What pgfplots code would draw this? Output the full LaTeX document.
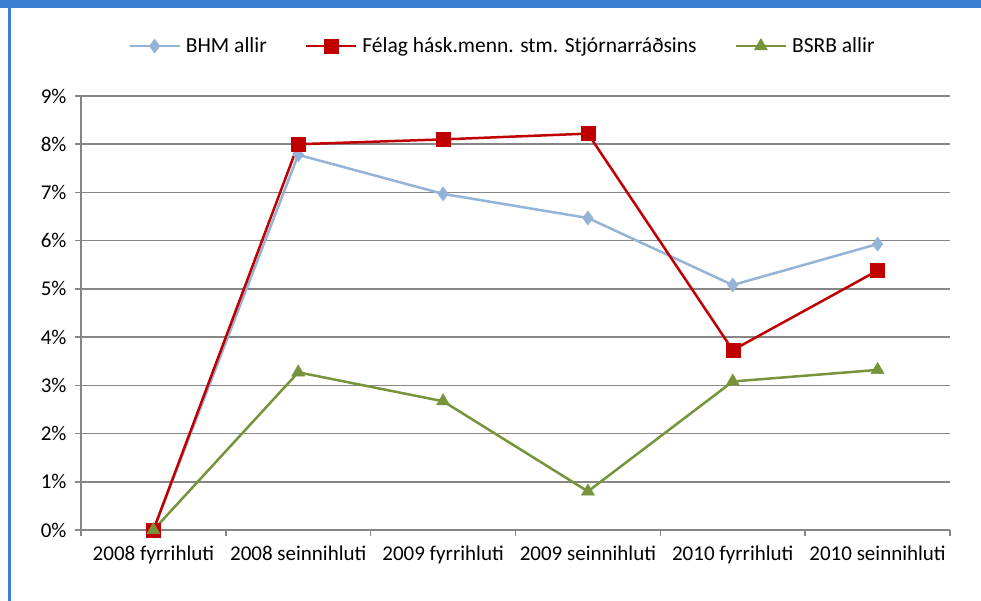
\documentclass[border=0pt]{standalone}
\usepackage{pgfplots}
\pgfplotsset{compat=1.18}
\usepackage{fontspec}
\setmainfont{Carlito}
\definecolor{bhm}{RGB}{149,179,215}
\definecolor{fel}{RGB}{192,0,0}
\definecolor{bsrb}{RGB}{119,147,60}
\definecolor{gridgray}{RGB}{134,134,134}
\definecolor{frameblue}{RGB}{58,128,208}
\begin{document}
\begin{tikzpicture}[x=1pt,y=1pt]
\useasboundingbox (0,0) rectangle (981,601);
\fill[white] (0,0) rectangle (981,601);
\fill[frameblue] (0,593) rectangle (981,601);
\fill[frameblue] (8,0) rectangle (10.5,593);
\begin{axis}[
  at={(81pt,71pt)}, anchor=south west,
  scale only axis, width=869pt, height=434pt,
  xmin=-0.5, xmax=5.5, ymin=0, ymax=9,
  axis x line*=bottom, axis y line*=left,
  axis line style={draw=gridgray, line width=1.5pt, -},
  xtick={0,1,2,3,4,5},
  xticklabels={2008 fyrrihluti,2008 seinnihluti,2009 fyrrihluti,2009 seinnihluti,2010 fyrrihluti,2010 seinnihluti},
  major x tick style={draw=none},
  minor xtick={-0.5,0.5,1.5,2.5,3.5,4.5,5.5},
  minor x tick style={draw=gridgray, line width=1.5pt},
  minor tick length=6pt,
  ytick={0,1,...,9},
  yticklabel={\pgfmathprintnumber{\tick}\%},
  y tick style={draw=gridgray, line width=1.5pt},
  major tick length=6pt,
  tick align=outside,
  ymajorgrids, grid style={draw=gridgray, line width=1.5pt},
  tick label style={font=\fontsize{21}{25}\selectfont},
  /pgf/number format/assume math mode=true,
  xticklabel style={yshift=-6pt},
  yticklabel style={xshift=-5pt},
  legend columns=3,
  legend style={at={(0.485,1.115)}, anchor=center, draw=none, fill=none,
    font=\fontsize{21.5}{25}\selectfont,
    /tikz/every odd column/.append style={column sep=3pt},
    /tikz/every even column/.append style={column sep=36pt}},
  legend image code/.code={
    \draw[#1, mark repeat=2, mark phase=2] plot coordinates {(0pt,0pt) (25pt,0pt) (50pt,0pt)};},
  clip=false,
]
\addplot[color=bhm, line width=2.5pt, mark=diamond*, mark size=7pt, mark options={solid, line width=0.5pt}]
  coordinates {(0,0) (1,7.78) (2,6.97) (3,6.47) (4,5.08) (5,5.93)};
\addlegendentry{BHM allir}
\addplot[color=fel, line width=2.5pt, mark=square*, mark size=7pt, mark options={solid, line width=0.5pt}]
  coordinates {(0,0) (1,8.0) (2,8.1) (3,8.22) (4,3.73) (5,5.38)};
\addlegendentry{Félag hásk.menn. stm. Stjórnarráðsins}
\addplot[color=bsrb, line width=2.5pt, mark=triangle*, mark size=7.5pt, mark options={solid, line width=0.5pt}]
  coordinates {(0,0) (1,3.27) (2,2.67) (3,0.8) (4,3.08) (5,3.32)};
\addlegendentry{BSRB allir}
\end{axis}
\end{tikzpicture}
\end{document}
